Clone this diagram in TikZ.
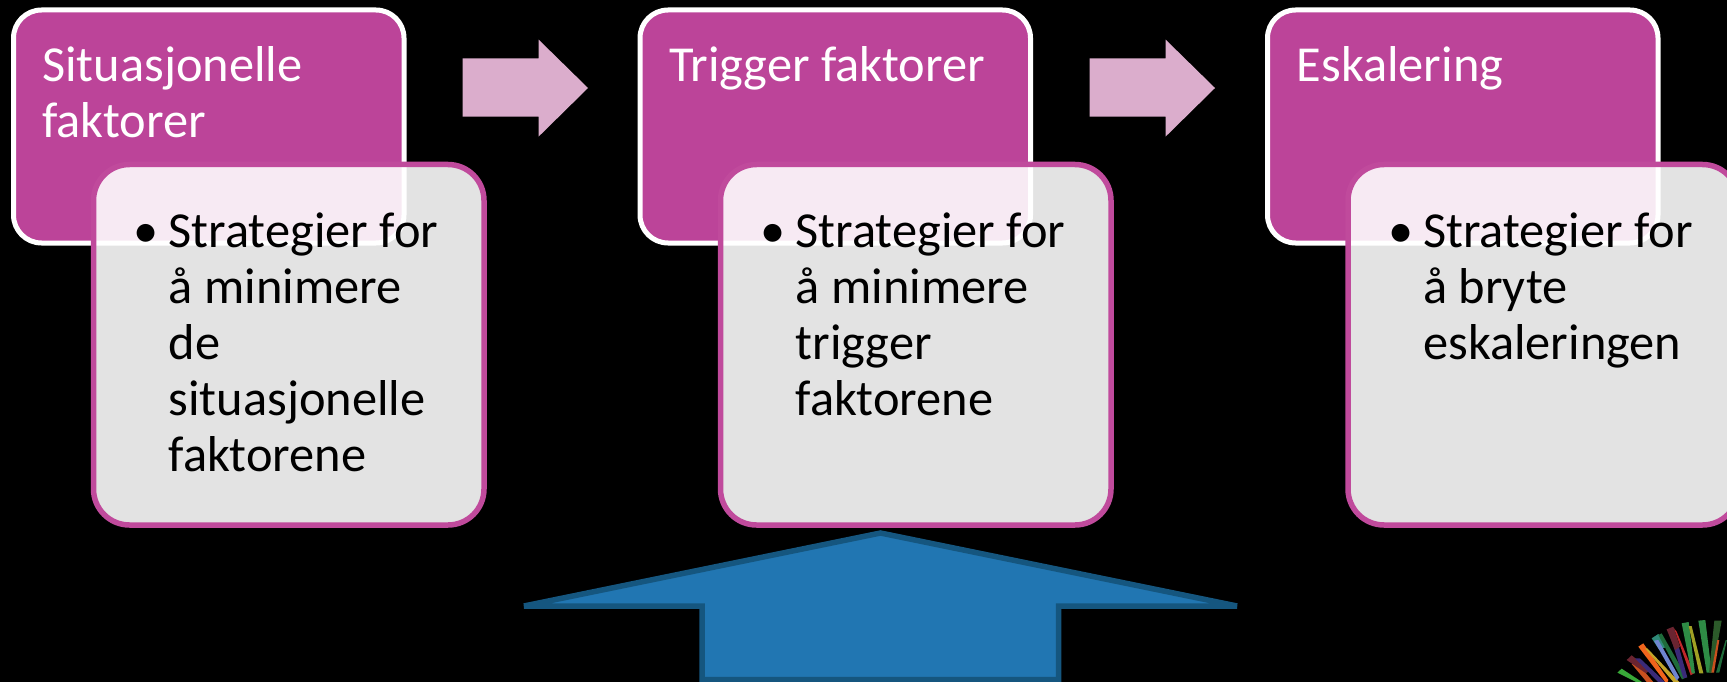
\documentclass[tikz,border=0pt]{standalone}
\usepackage{fontspec}
\setmainfont{Carlito}
\definecolor{mag}{HTML}{BC4499}
\definecolor{magline}{HTML}{C04A9C}
\definecolor{pinkarrow}{HTML}{DBADCC}
\definecolor{bluefill}{HTML}{2176B2}
\definecolor{blueline}{HTML}{15567F}
\definecolor{lgreen}{HTML}{38A838}
\definecolor{lgreenb}{HTML}{2E8B45}
\definecolor{ldgreen}{HTML}{1F6B3A}
\definecolor{lvdgreen}{HTML}{2C5A2A}
\definecolor{lmaroon}{HTML}{6A2430}
\definecolor{lnavy}{HTML}{3A2A78}
\definecolor{lorange}{HTML}{F0641C}
\definecolor{lorangeb}{HTML}{C8501E}
\definecolor{lolive}{HTML}{A0A024}
\definecolor{lyellow}{HTML}{C4A428}
\definecolor{lteal}{HTML}{2F8A78}
\definecolor{llav}{HTML}{6F85D0}
\definecolor{lred}{HTML}{C0282A}
\newcommand{\txtlines}[1]{\parbox[t]{360pt}{\raggedright\fontsize{50.4}{55.9}\selectfont #1}}
\tikzset{
  x=1pt,y=-1pt,
  headbox/.style={draw=white,line width=5pt,fill=mag,rounded corners=28pt,minimum width=390.5pt,minimum height=233pt,inner sep=0pt,outer sep=0pt,anchor=north west},
  bodybox/.style={draw=magline,line width=5.5pt,fill=white,fill opacity=.89,draw opacity=1,rounded corners=36pt,minimum width=390.5pt,minimum height=360.5pt,inner sep=0pt,outer sep=0pt,anchor=north west},
  headtext/.style={anchor=base west,inner sep=0pt,text=white},
  bodytext/.style={anchor=base west,inner sep=0pt,text=black},
  bul/.style={anchor=base,inner sep=0pt,text=black,font=\fontsize{50.4}{55.9}\selectfont},
  flow/.style={fill=pinkarrow,draw=none},
  bigarrow/.style={fill=bluefill,draw=blueline,line width=5.5pt,miter limit=1.5},
  bar/.style={fill=#1,draw=none}
}
\newcommand{\flowarrow}[1]{\path[flow,xshift=#1pt] (462.5,58.4)--(538.6,58.4)--(538.6,39.6)--(588,88)--(538.6,136.6)--(538.6,116.7)--(462.5,116.7)--cycle;}
\begin{document}
\begin{tikzpicture}
\useasboundingbox (0,0) rectangle (1727,682);
\fill[black] (0,0) rectangle (1727,682);
\clip (0,0) rectangle (1727,682);

% first group
\node[headbox] (h1) at (13.5,10) {};
\node[headtext] (ht1) at (42,81.4) {\txtlines{Situasjonelle\\faktorer}};
\node[bodybox] (b1) at (93.5,164.5) {};
\node[bul] (p1) at (146.5,247.5) {•};
\node[bodytext] (bt1) at (168.5,247.5) {\txtlines{Strategier for\\å minimere\\de\\situasjonelle\\faktorene}};

% second group
\node[headbox] (h2) at (640,10) {};
\node[headtext] (ht2) at (669,81.4) {\txtlines{Trigger faktorer}};
\node[bodybox] (b2) at (720.5,164.5) {};
\node[bul] (p2) at (773.5,247.5) {•};
\node[bodytext] (bt2) at (795.5,247.5) {\txtlines{Strategier for\\å minimere\\trigger\\faktorene}};

% third group
\node[headbox] (h3) at (1267.5,10) {};
\node[headtext] (ht3) at (1296.5,81.4) {\txtlines{Eskalering}};
\node[bodybox] (b3) at (1348,164.5) {};
\node[bul] (p3) at (1401,247.5) {•};
\node[bodytext] (bt3) at (1423,247.5) {\txtlines{Strategier for\\å bryte\\eskaleringen}};

% flow arrows
\flowarrow{0}
\flowarrow{627}

% big arrow
\draw[bigarrow] (880.5,533)--(1237,606)--(1058.5,606)--(1058.5,679.5)--(702,679.5)--(702,606)--(524,606)--cycle;

% logo
\begin{scope}[shift={(1560,590)},x=.3333pt,y=-.3333pt]
\path[bar=lgreen] (172,248)--(185,236)--(255,282)--(240,282)--cycle;
\path[bar=lorangeb] (215,222)--(228,215)--(285,282)--(265,282)--cycle;
\path[bar=lmaroon] (200,210)--(215,196)--(270,240)--(258,250)--cycle;
\path[bar=lnavy] (225,205)--(240,205)--(315,276)--(300,282)--cycle;
\path[bar=lorange] (235,170)--(250,160)--(325,270)--(320,282)--cycle;
\path[bar=lyellow] (255,175)--(262,175)--(358,276)--(345,282)--cycle;
\path[bar=lteal] (275,145)--(295,132)--(320,170)--(298,180)--cycle;
\path[bar=llav] (282,152)--(295,150)--(358,262)--(350,272)--cycle;
\path[bar=ldgreen] (295,135)--(305,130)--(380,262)--(366,268)--cycle;
\path[bar=lnavy] (328,128)--(342,118)--(382,262)--(370,265)--cycle;
\path[bar=lmaroon] (320,118)--(340,110)--(360,170)--(345,180)--cycle;
\path[bar=lred] (342,115)--(350,125)--(402,250)--(392,256)--cycle;
\path[bar=lgreenb] (365,100)--(386,96)--(405,250)--(395,250)--cycle;
\path[bar=lolive] (386,108)--(395,108)--(430,250)--(418,250)--cycle;
\path[bar=lgreenb] (415,92)--(436,90)--(455,248)--(440,248)--cycle;
\path[bar=lvdgreen] (463,92)--(485,92)--(457,248)--(447,248)--cycle;
\path[bar=lorangeb] (472,150)--(478,150)--(462,248)--(454,248)--cycle;
\path[bar=ldgreen] (497,150)--(501,150)--(478,248)--(468,248)--cycle;
\end{scope}
\end{tikzpicture}
\end{document}
